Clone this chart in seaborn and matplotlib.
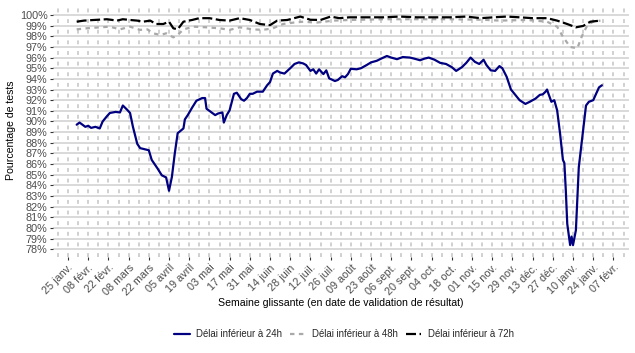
import matplotlib
matplotlib.use("Agg")
import matplotlib.pyplot as plt
import pandas as pd
import seaborn as sns

# jours comptés depuis le 25 janv. 2021
ORIGINE = pd.Timestamp("2021-01-25")

jours_24h = [6, 8, 12, 14, 16, 19, 22, 24, 27, 29, 33, 36, 38, 41, 43, 45, 48, 50,
             53, 56, 58, 62, 65, 68, 70, 72, 74, 76, 80, 81, 83, 86, 89, 93, 95, 96,
             98, 102, 104, 107, 108, 110, 112, 115, 117, 120, 122, 124, 126, 128, 131,
             135, 138, 140, 142, 145, 147, 150, 154, 157, 160, 163, 165, 168, 170, 172,
             174, 177, 179, 181, 185, 187, 190, 192, 194, 196, 200, 203, 207, 210, 214,
             217, 221, 224, 228, 232, 237, 240, 244, 247, 250, 254, 258, 262, 266, 269,
             273, 276, 279, 282, 285, 288, 290, 293, 296, 299, 301, 304, 307, 310, 313,
             317, 320, 324, 327, 329, 331, 332, 333, 335, 337, 339, 341, 343, 344, 345,
             346, 348, 349, 350, 352, 354, 357, 359, 361, 364, 366, 368, 370]
taux_24h = [89.7, 89.9, 89.5, 89.6, 89.4, 89.5, 89.35, 90.0, 90.5, 90.8, 90.9, 90.85,
            91.5, 91.1, 90.8, 89.5, 87.9, 87.5, 87.4, 87.3, 86.4, 85.6, 84.95, 84.75,
            83.5, 84.8, 87.0, 88.9, 89.35, 90.2, 90.6, 91.3, 91.95, 92.2, 92.2, 91.2,
            91.0, 90.6, 90.75, 90.85, 89.9, 90.6, 91.05, 92.6, 92.7, 92.1, 91.95, 92.2,
            92.6, 92.6, 92.8, 92.8, 93.4, 93.7, 94.5, 94.75, 94.6, 94.5, 95.0, 95.4,
            95.55, 95.45, 95.3, 94.75, 94.9, 94.5, 94.9, 94.45, 94.8, 94.05, 93.8, 93.9,
            94.25, 94.15, 94.45, 94.95, 94.9, 95.0, 95.3, 95.55, 95.7, 95.9, 96.15, 96.0,
            95.85, 96.05, 96.0, 95.9, 95.75, 95.9, 96.0, 95.8, 95.5, 95.4, 95.1, 94.75,
            95.1, 95.5, 96.0, 95.6, 95.4, 95.8, 95.3, 94.8, 94.75, 95.2, 95.0, 94.2,
            93.0, 92.5, 92.0, 91.65, 91.85, 92.15, 92.5, 92.55, 92.8, 93.0, 92.6, 91.85,
            92.0, 91.05, 88.9, 86.4, 86.1, 83.55, 80.4, 78.4, 79.2, 78.4, 79.8, 85.7,
            89.2, 91.5, 91.85, 92.0, 92.6, 93.2, 93.4]

jours_48h = [6, 13, 22, 29, 36, 43, 50, 55, 59, 64, 68, 73, 76, 80, 87, 96, 105, 112,
             119, 128, 135, 142, 149, 156, 163, 172, 184, 195, 219, 242, 265, 288, 299,
             318, 332, 339, 343, 348, 353, 356, 360, 364, 369]
taux_48h = [98.65, 98.75, 98.84, 98.9, 98.65, 98.9, 98.6, 98.65, 98.28, 98.12, 98.28,
            97.9, 98.12, 98.65, 98.9, 98.84, 98.75, 98.6, 98.84, 98.65, 98.6, 98.75,
            99.15, 99.28, 99.37, 99.28, 99.47, 99.53, 99.6, 99.6, 99.6, 99.55, 99.47,
            99.53, 99.37, 98.9, 97.96, 97.0, 96.87, 97.96, 99.06, 99.37, 99.47]

jours_72h = [6, 11, 18, 27, 34, 38, 43, 48, 52, 57, 61, 66, 70, 73, 76, 80, 86, 91, 98,
             105, 112, 119, 126, 133, 140, 145, 152, 161, 168, 175, 182, 188, 195, 207,
             219, 230, 242, 253, 265, 276, 286, 295, 304, 313, 322, 332, 339, 346, 352,
             357, 362, 369]
taux_72h = [99.37, 99.47, 99.53, 99.6, 99.47, 99.6, 99.53, 99.47, 99.37, 99.47, 99.15,
            99.15, 99.37, 98.75, 98.65, 99.37, 99.53, 99.7, 99.7, 99.53, 99.47, 99.7,
            99.53, 99.15, 99.05, 99.47, 99.53, 99.85, 99.55, 99.53, 99.85, 99.7, 99.78,
            99.78, 99.78, 99.85, 99.78, 99.78, 99.78, 99.85, 99.7, 99.78, 99.85, 99.78,
            99.7, 99.7, 99.47, 99.15, 98.84, 98.97, 99.37, 99.47]

series = ["Délai inférieur à 24h", "Délai inférieur à 48h", "Délai inférieur à 72h"]
couleurs = ["#000080", "#A9A9A9", "#000000"]
MOIS = ["janv.", "févr.", "mars", "avril", "mai", "juin",
        "juil.", "août", "sept.", "oct.", "nov.", "déc."]
graduations_y = list(range(78, 101))

df = pd.concat([
    pd.DataFrame({"date": ORIGINE + pd.to_timedelta(j, unit="D"), "taux": t, "serie": s})
    for j, t, s in [(jours_24h, taux_24h, series[0]),
                    (jours_48h, taux_48h, series[1]),
                    (jours_72h, taux_72h, series[2])]
], ignore_index=True)

sns.set_theme(style="white")
plt.rcParams['font.family'] = ['Liberation Sans', 'DejaVu Sans']

fig = plt.figure(figsize=(6.35, 3.53), dpi=100)
ax = fig.add_axes([53 / 635, 1 - 257 / 353, 576 / 635, 253 / 353])

sns.lineplot(data=df, x="date", y="taux", hue="serie", style="serie",
             hue_order=series, style_order=series,
             palette=dict(zip(series, couleurs)),
             dashes={series[0]: "", series[1]: (2, 2), series[2]: (4.5, 1.6)},
             linewidth=1.6, estimator=None, ax=ax)

# axes
majeurs = pd.date_range(ORIGINE, periods=28, freq="14D")
mineurs = pd.date_range(ORIGINE - pd.Timedelta(days=7), periods=57, freq="7D")
ax.set_xticks(majeurs)
ax.set_xticks(mineurs, minor=True)
ax.set_xticklabels([f"{d.day:02d} {MOIS[d.month - 1]}" for d in majeurs],
                   rotation=45, ha="right", va="top", rotation_mode="anchor")
ax.set_yticks(graduations_y)
ax.set_yticklabels([f"{v}%" for v in graduations_y])
ax.set_xlim(ORIGINE - pd.Timedelta(days=10.4), ORIGINE + pd.Timedelta(days=388.8))
ax.set_ylim(77.28, 101.03)

for s in ax.spines.values():
    s.set_visible(False)
ax.grid(axis="y", which="major", color="#D0D0D0", linewidth=1.1, linestyle="-")
ax.grid(axis="x", which="both", color="#D0D0D0", linewidth=1.4, linestyle=(0, (2.0, 3.47)))
ax.set_axisbelow(True)
ax.tick_params(axis="both", which="major", length=2.5, width=0.8, color="#333333",
               labelsize=7.8, labelcolor="#4D4D4D", pad=1.5)
ax.tick_params(axis="x", which="minor", length=0)
ax.tick_params(left=True, bottom=True)

ax.set_xlabel("Semaine glissante (en date de validation de résultat)", fontsize=7.6,
              color="black", labelpad=0.5)
ax.set_ylabel("Pourcentage de tests", fontsize=7.6, color="black", labelpad=3)

handles, labels = ax.get_legend_handles_labels()
ax.get_legend().remove()
fig.legend(handles, labels, loc="center", bbox_to_anchor=(344 / 635, 1 - 334 / 353),
           ncol=3, frameon=False, fontsize=6.9, handlelength=1.6, handletextpad=0.7,
           columnspacing=0.8)

fig.savefig("out.png", dpi=100)
